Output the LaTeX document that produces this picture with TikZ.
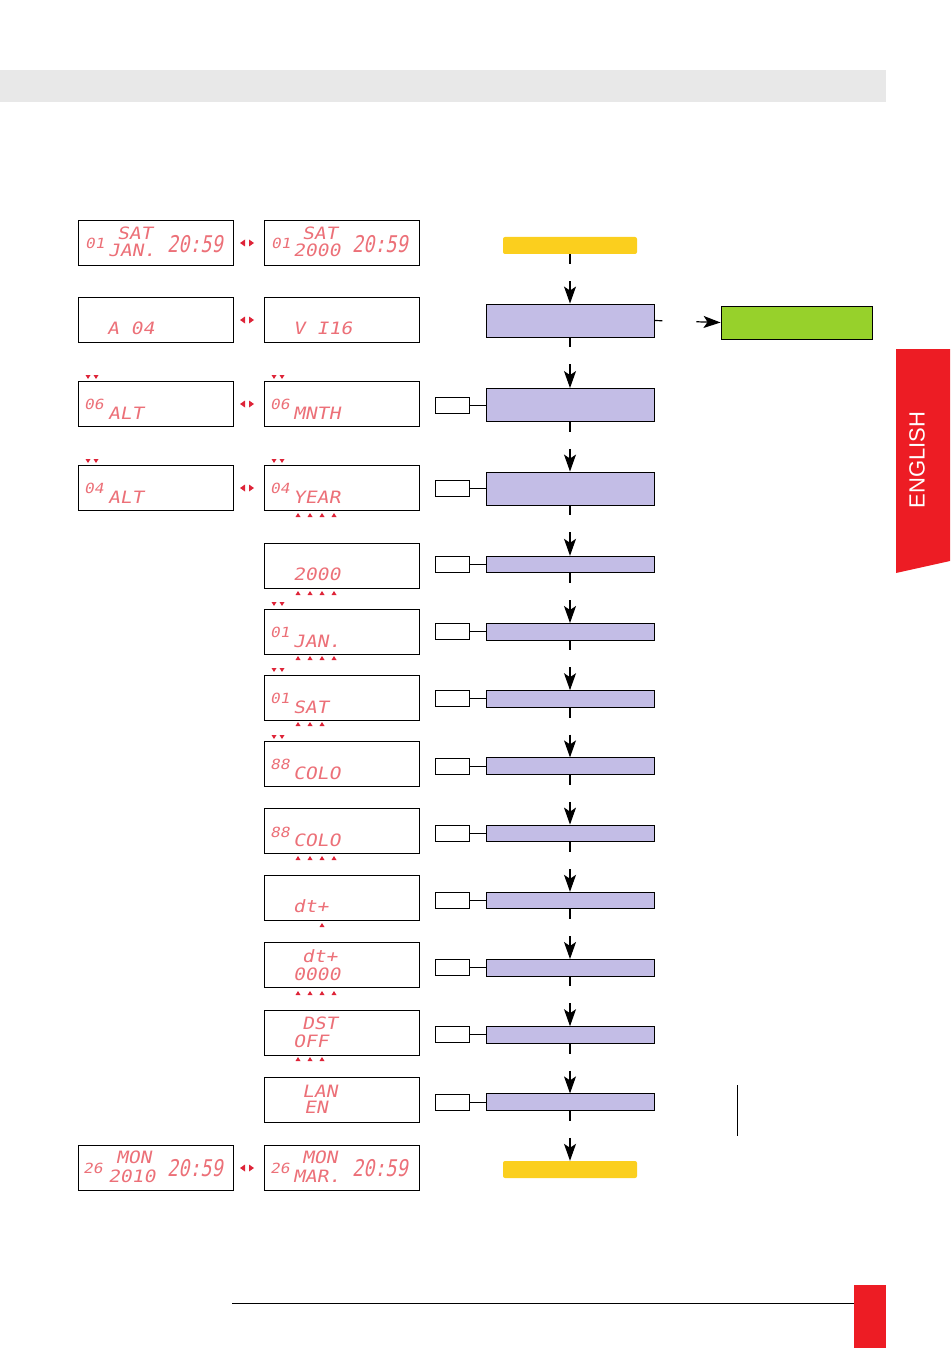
\documentclass[tikz,border=0pt]{standalone}
\usepackage{fontspec}
\setmainfont{Liberation Sans}
\newfontfamily\lcdfont[FakeSlant=0.2,FakeStretch=1.15]{DejaVu Sans Mono}
\newfontfamily\lcdbigfont[FakeSlant=0.2,FakeStretch=0.8]{DejaVu Sans Mono}
\usetikzlibrary{arrows.meta}
\definecolor{lcdred}{RGB}{236,112,120}
\definecolor{markred}{RGB}{222,36,56}
\definecolor{tabred}{RGB}{237,28,36}
\definecolor{lav}{RGB}{195,189,230}
\definecolor{gold}{RGB}{251,207,30}
\definecolor{lime}{RGB}{151,209,43}
\definecolor{band}{RGB}{232,232,232}

\begin{document}
\begin{tikzpicture}[x=1pt,y=-1pt,
  lcd/.style={draw,line width=1pt,fill=white,minimum width=155pt,minimum height=45pt,anchor=north west,inner sep=0pt},
  sm/.style={anchor=base west,inner sep=0pt,text=lcdred,font=\lcdfont\fontsize{14}{14}\selectfont},
  md/.style={anchor=base west,inner sep=0pt,text=lcdred,font=\lcdfont\fontsize{17}{17}\selectfont},
  bg/.style={anchor=base west,inner sep=0pt,text=lcdred,font=\lcdbigfont\fontsize{23}{23}\selectfont},
  stepbig/.style={draw,fill=lav,line width=0.9pt,minimum width=168pt,minimum height=33pt,inner sep=0pt},
  stepthin/.style={stepbig,minimum height=16.5pt},
  keybox/.style={draw,fill=white,line width=0.9pt,minimum width=34pt,minimum height=16pt,inner sep=0pt},
  termbox/.style={fill=gold,rounded corners=2pt,minimum width=134pt,minimum height=17pt,inner sep=0pt},
  flow/.style={line width=1.2pt,-{Stealth[length=17pt,width=12pt,inset=4pt]},dash pattern=on 10pt off 17pt on 80pt},
  flowside/.style={flow,dash pattern=on 8pt off 34pt on 80pt}
]
  \useasboundingbox (0,0) rectangle (950,1348);

  % page furniture
  \fill[band] (0,70) rectangle (886,102);
  \fill[tabred] (896,349) -- (950,349) -- (950,561) -- (896,573) -- cycle;
  \node[rotate=90,text=white,font=\fontsize{22}{22}\selectfont] (tab) at (917,460) {ENGLISH};
  \draw[line width=0.9pt] (232,1303) -- (855,1303);
  \fill[tabred] (854,1285) rectangle (886,1348);

  % displays
  \node[lcd] (d1l) at (78,220) {};
  \node[lcd] (d1r) at (264,220) {};
  \node[lcd] (d2l) at (78,297) {};
  \node[lcd] (d2r) at (264,297) {};
  \node[lcd] (d3l) at (78,381) {};
  \node[lcd] (d3r) at (264,381) {};
  \node[lcd] (d4l) at (78,465) {};
  \node[lcd] (d4r) at (264,465) {};
  \node[lcd] (d5) at (264,543) {};
  \node[lcd] (d6) at (264,609) {};
  \node[lcd] (d7) at (264,675) {};
  \node[lcd] (d8) at (264,741) {};
  \node[lcd] (d9) at (264,808) {};
  \node[lcd] (d10) at (264,875) {};
  \node[lcd] (d11) at (264,942) {};
  \node[lcd] (d12) at (264,1010) {};
  \node[lcd] (d13) at (264,1077) {};
  \node[lcd] (d14l) at (78,1145) {};
  \node[lcd] (d14r) at (264,1145) {};

  % display texts
  \node[sm] (t1la) at (85,248) {01};
  \node[md] (t1lb) at (117,240) {SAT};
  \node[md] (t1lc) at (108,257) {JAN.};
  \node[bg] (t1ld) at (167,252) {20:59};
  \node[sm] (t1ra) at (271,248) {01};
  \node[md] (t1rb) at (302,240) {SAT};
  \node[md] (t1rc) at (293,257) {2000};
  \node[bg] (t1rd) at (352,252) {20:59};
  \node[md] (t2l) at (107,334) {A 04};
  \node[md] (t2r) at (293,334) {V I16};
  \node[sm] (t3la) at (84,409) {06};
  \node[md] (t3lb) at (108,419) {ALT};
  \node[sm] (t3ra) at (270,409) {06};
  \node[md] (t3rb) at (293,419) {MNTH};
  \node[sm] (t4la) at (84,493) {04};
  \node[md] (t4lb) at (108,503) {ALT};
  \node[sm] (t4ra) at (270,493) {04};
  \node[md] (t4rb) at (293,503) {YEAR};
  \node[md] (t5) at (293,580) {2000};
  \node[sm] (t6a) at (270,637) {01};
  \node[md] (t6b) at (293,647) {JAN.};
  \node[sm] (t7a) at (270,703) {01};
  \node[md] (t7b) at (293,713) {SAT};
  \node[sm] (t8a) at (270,769) {88};
  \node[md] (t8b) at (293,779) {COLO};
  \node[sm] (t9a) at (270,837) {88};
  \node[md] (t9b) at (293,846) {COLO};
  \node[md] (t10) at (293,912) {dt+};
  \node[md] (t11a) at (302,962) {dt+};
  \node[md] (t11b) at (293,980) {0000};
  \node[md] (t12a) at (302,1029) {DST};
  \node[md] (t12b) at (293,1047) {OFF};
  \node[md] (t13a) at (302,1097) {LAN};
  \node[md] (t13b) at (304,1113) {EN};
  \node[sm] (t14la) at (83,1173) {26};
  \node[md] (t14lb) at (116,1163) {MON};
  \node[md] (t14lc) at (108,1182) {2010};
  \node[bg] (t14ld) at (167,1176) {20:59};
  \node[sm] (t14ra) at (270,1173) {26};
  \node[md] (t14rb) at (302,1163) {MON};
  \node[md] (t14rc) at (293,1182) {MAR.};
  \node[bg] (t14rd) at (352,1176) {20:59};

  % toggle marks and digit markers
  \foreach \y in {243,320,404,488,1168} {
    \fill[markred] (240,\y) -- (245,\y-3.5) -- (245,\y+3.5) -- cycle;
    \fill[markred] (254,\y) -- (249,\y-3.5) -- (249,\y+3.5) -- cycle;
  }
  \foreach \x/\y in {88/377,96/377,274/377,282/377,88/461,96/461,274/461,282/461,
                     274/604,282/604,274/670,282/670,274/737,282/737}
    \fill[markred] (\x-2.5,\y-2) -- (\x+2.5,\y-2) -- (\x,\y+2) -- cycle;
  \foreach \y in {515,593,658,858,993}
    \foreach \x in {298,310,322,334}
      \fill[markred] (\x-2.5,\y+2) -- (\x+2.5,\y+2) -- (\x,\y-2) -- cycle;
  \foreach \y in {724,1059}
    \foreach \x in {298,310,322}
      \fill[markred] (\x-2.5,\y+2) -- (\x+2.5,\y+2) -- (\x,\y-2) -- cycle;
  \fill[markred] (319.5,927) -- (324.5,927) -- (322,923) -- cycle;

  % flow chart
  \node[termbox] (start) at (570,245.5) {};
  \node[stepbig] (b1) at (570,320.5) {};
  \node[draw,fill=lime,line width=0.9pt,minimum width=151pt,minimum height=33pt,inner sep=0pt] (menu) at (796.5,322.5) {};
  \node[stepbig] (b2) at (570,405) {};
  \node[stepbig] (b3) at (570,488.5) {};
  \node[stepthin] (b4) at (570,564.5) {};
  \node[stepthin] (b5) at (570,631.7) {};
  \node[stepthin] (b6) at (570,698.9) {};
  \node[stepthin] (b7) at (570,766.1) {};
  \node[stepthin] (b8) at (570,833.3) {};
  \node[stepthin] (b9) at (570,900.5) {};
  \node[stepthin] (b10) at (570,967.7) {};
  \node[stepthin] (b11) at (570,1034.9) {};
  \node[stepthin] (b12) at (570,1102.1) {};
  \node[termbox] (stop) at (570,1169.5) {};

  \node[keybox] (k2) at (452,405) {};
  \node[keybox] (k3) at (452,488.5) {};
  \foreach \i/\y in {4/564.5,5/631.7,6/698.9,7/766.1,8/833.3,9/900.5,10/967.7,11/1034.9,12/1102.1}
    \node[keybox] (k\i) at (452,\y) {};
  \foreach \i in {2,...,12}
    \draw[line width=0.9pt] (k\i.east) -- (b\i.west);

  \draw[flow] (start.south) -- (b1.north);
  \draw[flowside] (b1.east) -- (menu.west);
  \foreach \i [count=\j from 2] in {1,...,11}
    \draw[flow] (b\i.south) -- (b\j.north);
  \draw[flow] (b12.south) -- (stop.north);

  \draw[line width=1pt] (737,1085) -- (737,1136);
\end{tikzpicture}
\end{document}
